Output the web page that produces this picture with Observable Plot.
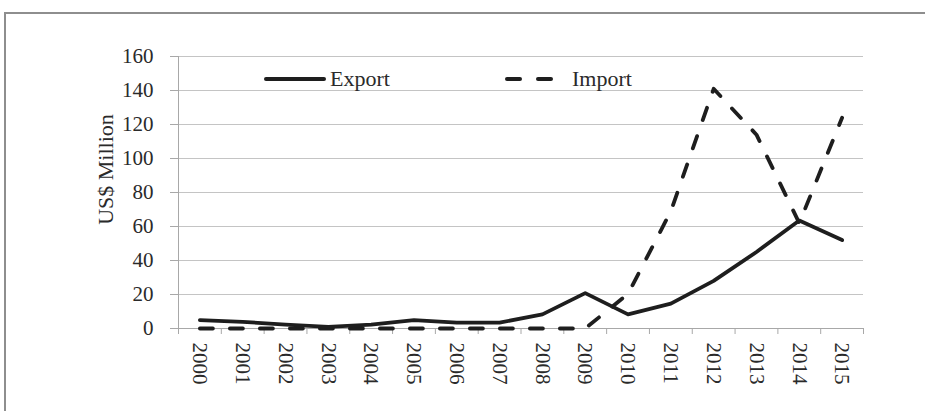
<!DOCTYPE html>
<html><head><meta charset="utf-8">
<script src="https://cdn.jsdelivr.net/npm/d3@7"></script>
<script src="https://cdn.jsdelivr.net/npm/@observablehq/plot@0.6"></script>
<style>
body{margin:0;background:#fff;}
#wrap{position:relative;width:925px;height:411px;overflow:hidden;font-family:"Liberation Serif",serif;background:#fff;}
#frame{position:absolute;left:4px;top:12px;width:940px;height:440px;border-left:2px solid #8e8e8e;border-top:2px solid #8e8e8e;}
#chart{position:absolute;left:0;top:0;}
.lt{position:absolute;font-size:22px;line-height:22px;color:#2a2a2a;white-space:nowrap;}
.ls{position:absolute;height:4px;background:#1e1e1e;border-radius:2px;}
</style></head><body>
<div id="wrap">
  <div id="frame"></div>
  <div id="chart"></div>
  <div class="ls" style="left:264px;top:77px;width:62px;"></div>
  <div class="lt" style="left:330px;top:68px;">Export</div>
  <div class="ls" style="left:505px;top:77px;width:17px;"></div>
  <div class="ls" style="left:536px;top:77px;width:17px;"></div>
  <div class="lt" style="left:572px;top:68px;">Import</div>
</div>
<script>
const years = [2000,2001,2002,2003,2004,2005,2006,2007,2008,2009,2010,2011,2012,2013,2014,2015];
const exportVals = [4.9,3.9,2.3,1,2.3,4.9,3.5,3.5,8.3,20.8,8.3,14.6,28,45,63.5,52];
const importVals = [0,0,0,0,0,0,0,0,0,0,20.4,69,141,114,62,124];
const yTicks = [0,20,40,60,80,100,120,140,160];
const yLabel = "US$ Million";

const exportData = years.map((y,i)=>({year:y, value:exportVals[i]}));
const importData = years.map((y,i)=>({year:y, value:importVals[i]}));
const edges = years.map(y=>y-0.5).concat([years[years.length-1]+0.5]);

const axisColor = "#a8a8a8";
const chart = Plot.plot({
  width: 925,
  height: 411,
  marginLeft: 178,
  marginRight: 62,
  marginTop: 56,
  marginBottom: 83,
  style: {background: "transparent", fontFamily: "Liberation Serif, serif", color: "#2a2a2a"},
  x: {type: "linear", domain: [1999.5, 2015.5]},
  y: {domain: [0, 160]},
  marks: [
    Plot.gridY(yTicks, {stroke: "#c4c4c4", strokeOpacity: 1, strokeWidth: 1}),
    Plot.ruleX([1999.5], {stroke: axisColor}),
    Plot.ruleY([0], {stroke: axisColor}),
    Plot.axisY(yTicks, {tickSize: 8, tickPadding: 17, stroke: axisColor, fontSize: 21, label: null, tickFormat: d => String(d)}),
    Plot.axisX(edges, {tickSize: 6, tickPadding: 0, stroke: axisColor, tickFormat: () => "", label: null}),
    Plot.axisX(years, {tickSize: 0, tickPadding: 14, tickRotate: 90, fontSize: 21, tickFormat: d => String(d), label: null}),
    Plot.line(importData, {x: "year", y: "value", stroke: "#1e1e1e", strokeWidth: 3.8, strokeDasharray: "13,17", strokeLinecap: "round", strokeLinejoin: "round"}),
    Plot.line(exportData, {x: "year", y: "value", stroke: "#1e1e1e", strokeWidth: 3.8, strokeLinejoin: "round"}),
    Plot.text([yLabel], {frameAnchor: "left", textAnchor: "middle", dx: -73, dy: -23, rotate: -90, fontSize: 22, fill: "#2a2a2a"})
  ]
});
document.getElementById("chart").appendChild(chart);
</script>
</body></html>
